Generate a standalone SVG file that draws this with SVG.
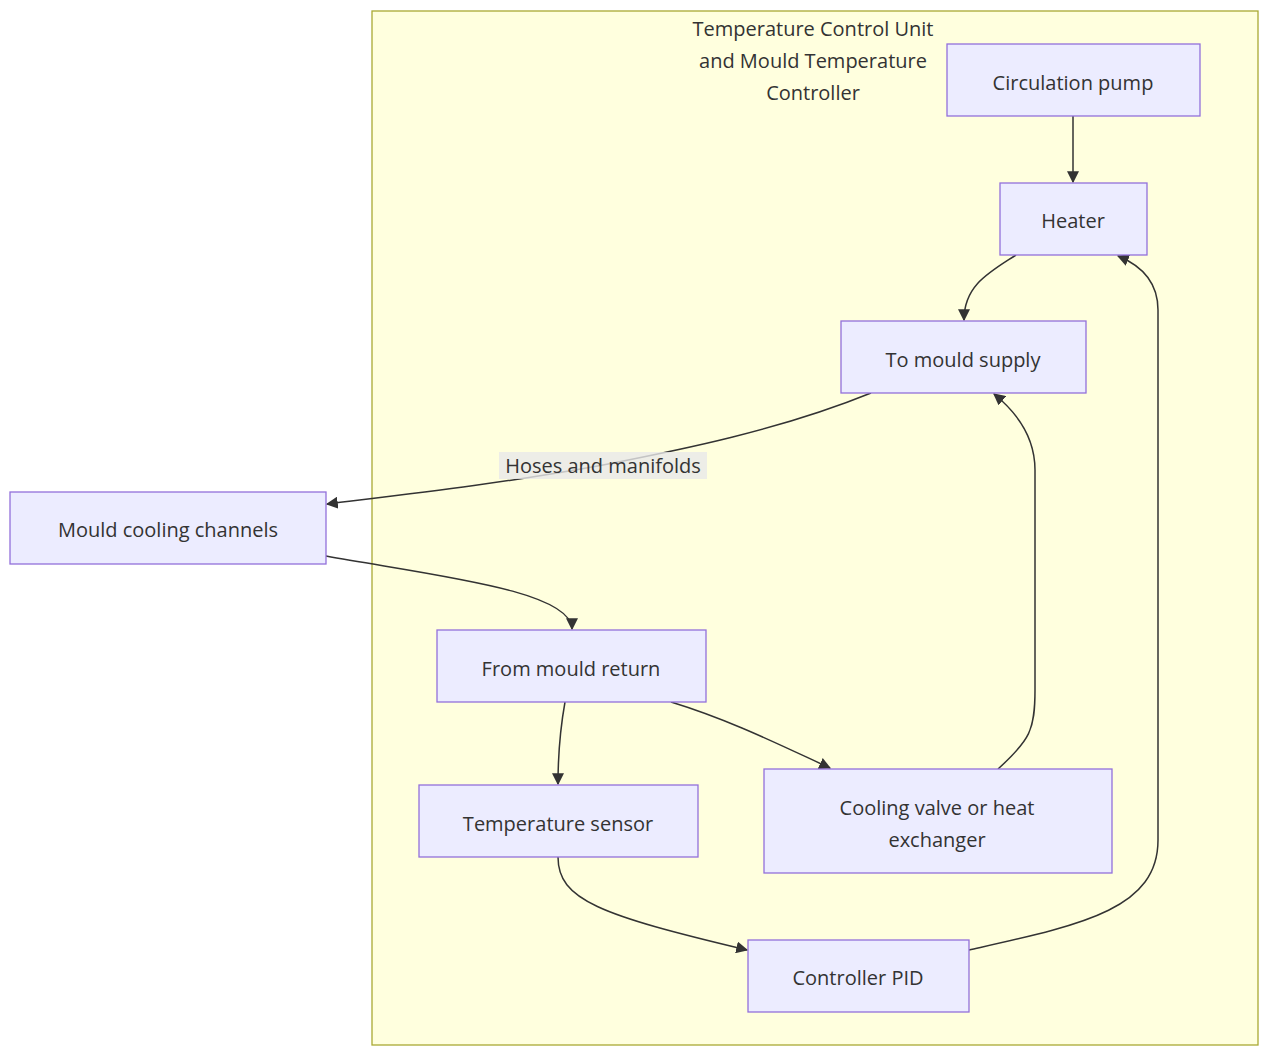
<svg xmlns="http://www.w3.org/2000/svg" width="1280" height="1064" viewBox="0 0 1280 1064">
<style>
.n rect{fill:#ECECFF;stroke:#9370DB;stroke-width:1.3}
text{font-family:"Open Sans","Liberation Sans",sans-serif;font-size:20px;fill:#333;text-anchor:middle;dominant-baseline:central}
.e path{fill:none;stroke:#333;stroke-width:1.5;marker-end:url(#a)}
</style>
<defs><marker id="a" viewBox="0 0 10 10" refX="9" refY="5" markerWidth="8" markerHeight="8" orient="auto-start-reverse"><path d="M0,0L10,5L0,10z" fill="#333"/></marker></defs>
<rect x="372" y="11" width="886" height="1034" fill="#ffffde" stroke="#aaaa33" stroke-width="1.3"/>
<text x="813" y="28">Temperature Control Unit</text>
<text x="813" y="60">and Mould Temperature</text>
<text x="813" y="92">Controller</text>
<g class="e">
<path d="M1073,116L1073,182"/>
<path d="M1016,255C990,272 964,285 964,320"/>
<path d="M871,393C780,430 680,450 603,465C500,484 400,495 327,504"/>
<path d="M326,556C430,575 572,590 572,629"/>
<path d="M565,702C560,730 558,750 558,784"/>
<path d="M671,702C730,720 780,745 830,768"/>
<path d="M998,769C1030,740 1035,730 1035,690L1035,470C1035,440 1020,415 994,394"/>
<path d="M558,857C558,900 600,915 747,950"/>
<path d="M969,950C1080,925 1158,910 1158,840L1158,310C1158,280 1140,265 1118,256"/>
</g>
<rect x="499" y="452" width="208" height="27" fill="#e8e8e8" opacity="0.8"/>
<text x="603" y="465">Hoses and manifolds</text>
<g class="n" id="pump"><rect x="947" y="44" width="253" height="72"/><text x="1073" y="82">Circulation pump</text></g>
<g class="n" id="heater"><rect x="1000" y="183" width="147" height="72"/><text x="1073" y="220">Heater</text></g>
<g class="n" id="supply"><rect x="841" y="321" width="245" height="72"/><text x="963" y="359">To mould supply</text></g>
<g class="n" id="mould"><rect x="10" y="492" width="316" height="72"/><text x="168" y="529">Mould cooling channels</text></g>
<g class="n" id="return"><rect x="437" y="630" width="269" height="72"/><text x="571" y="668">From mould return</text></g>
<g class="n" id="sensor"><rect x="419" y="785" width="279" height="72"/><text x="558" y="823">Temperature sensor</text></g>
<g class="n" id="valve"><rect x="764" y="769" width="348" height="104"/><text x="937" y="807">Cooling valve or heat</text><text x="937" y="839">exchanger</text></g>
<g class="n" id="pid"><rect x="748" y="940" width="221" height="72"/><text x="858" y="977">Controller PID</text></g>
</svg>
